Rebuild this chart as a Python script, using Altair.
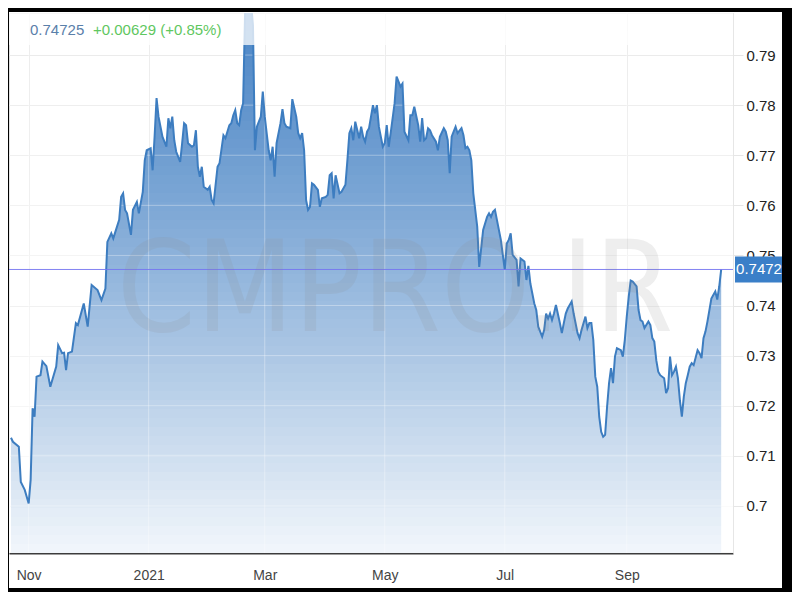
import altair as alt
import pandas as pd

# ---------------- data ----------------
dates = [
    "2020-10-23", "2020-10-24", "2020-10-27", "2020-10-28", "2020-10-30",
    "2020-11-01", "2020-11-02", "2020-11-03", "2020-11-04", "2020-11-05", "2020-11-07", "2020-11-08",
    "2020-11-10", "2020-11-12", "2020-11-15", "2020-11-16", "2020-11-18", "2020-11-19", "2020-11-20",
    "2020-11-21", "2020-11-23", "2020-11-25", "2020-11-26", "2020-11-29",
    "2020-12-01", "2020-12-03", "2020-12-06", "2020-12-08", "2020-12-10", "2020-12-11", "2020-12-13",
    "2020-12-14", "2020-12-17", "2020-12-18", "2020-12-19", "2020-12-20", "2020-12-21", "2020-12-23",
    "2020-12-24", "2020-12-26", "2020-12-27", "2020-12-29", "2020-12-30", "2020-12-31",
    "2021-01-02", "2021-01-03", "2021-01-04", "2021-01-05", "2021-01-06", "2021-01-07", "2021-01-08",
    "2021-01-10", "2021-01-11", "2021-01-12", "2021-01-13", "2021-01-14", "2021-01-15", "2021-01-17",
    "2021-01-18", "2021-01-19", "2021-01-20", "2021-01-21", "2021-01-23", "2021-01-24", "2021-01-25",
    "2021-01-26", "2021-01-27", "2021-01-28", "2021-01-29", "2021-01-31",
    "2021-02-01", "2021-02-02", "2021-02-03", "2021-02-05", "2021-02-06", "2021-02-08", "2021-02-09",
    "2021-02-11", "2021-02-12", "2021-02-13", "2021-02-14", "2021-02-15", "2021-02-16", "2021-02-17",
    "2021-02-18", "2021-02-19", "2021-02-20", "2021-02-21", "2021-02-22", "2021-02-23", "2021-02-24",
    "2021-02-25", "2021-02-27", "2021-02-28",
    "2021-03-01", "2021-03-03", "2021-03-04", "2021-03-05", "2021-03-06", "2021-03-07", "2021-03-09",
    "2021-03-10", "2021-03-11", "2021-03-12", "2021-03-14", "2021-03-15", "2021-03-17", "2021-03-18",
    "2021-03-19", "2021-03-20", "2021-03-21", "2021-03-22", "2021-03-23", "2021-03-24", "2021-03-25",
    "2021-03-26", "2021-03-28", "2021-03-29", "2021-03-30",
    "2021-04-01", "2021-04-02", "2021-04-03", "2021-04-04", "2021-04-05", "2021-04-06", "2021-04-08",
    "2021-04-09", "2021-04-11", "2021-04-12", "2021-04-13", "2021-04-14", "2021-04-15", "2021-04-16",
    "2021-04-18", "2021-04-19", "2021-04-20", "2021-04-21", "2021-04-22", "2021-04-23", "2021-04-25",
    "2021-04-26", "2021-04-27", "2021-04-28", "2021-04-30",
    "2021-05-01", "2021-05-02", "2021-05-03", "2021-05-04", "2021-05-06", "2021-05-07", "2021-05-08",
    "2021-05-09", "2021-05-10", "2021-05-11", "2021-05-13", "2021-05-14", "2021-05-15", "2021-05-16",
    "2021-05-18", "2021-05-19", "2021-05-20", "2021-05-21", "2021-05-22", "2021-05-23", "2021-05-24",
    "2021-05-25", "2021-05-27", "2021-05-28", "2021-05-29", "2021-05-31",
    "2021-06-01", "2021-06-02", "2021-06-03", "2021-06-04", "2021-06-05", "2021-06-06", "2021-06-07",
    "2021-06-09", "2021-06-10", "2021-06-11", "2021-06-12", "2021-06-13", "2021-06-14", "2021-06-15",
    "2021-06-17", "2021-06-18", "2021-06-19", "2021-06-20", "2021-06-22", "2021-06-23", "2021-06-24",
    "2021-06-25", "2021-06-26", "2021-06-27", "2021-06-29", "2021-06-30",
    "2021-07-01", "2021-07-02", "2021-07-03", "2021-07-04", "2021-07-05", "2021-07-07", "2021-07-08",
    "2021-07-09", "2021-07-11", "2021-07-12", "2021-07-13", "2021-07-14", "2021-07-16", "2021-07-17",
    "2021-07-18", "2021-07-20", "2021-07-21", "2021-07-22", "2021-07-23", "2021-07-24", "2021-07-25",
    "2021-07-26", "2021-07-27", "2021-07-29", "2021-07-30", "2021-07-31",
    "2021-08-01", "2021-08-02", "2021-08-03", "2021-08-04", "2021-08-05", "2021-08-07", "2021-08-08",
    "2021-08-09", "2021-08-11", "2021-08-12", "2021-08-13", "2021-08-14", "2021-08-15", "2021-08-16",
    "2021-08-17", "2021-08-18", "2021-08-19", "2021-08-20", "2021-08-21", "2021-08-22", "2021-08-23",
    "2021-08-24", "2021-08-25", "2021-08-26", "2021-08-27", "2021-08-29", "2021-08-30", "2021-08-31",
    "2021-09-01", "2021-09-02", "2021-09-03", "2021-09-04", "2021-09-06", "2021-09-07", "2021-09-08",
    "2021-09-09", "2021-09-10", "2021-09-12", "2021-09-13", "2021-09-14", "2021-09-15", "2021-09-16",
    "2021-09-17", "2021-09-18", "2021-09-20", "2021-09-21", "2021-09-22", "2021-09-23", "2021-09-24",
    "2021-09-25", "2021-09-26", "2021-09-27", "2021-09-28", "2021-09-29", "2021-09-30",
    "2021-10-01", "2021-10-02", "2021-10-03", "2021-10-04", "2021-10-05", "2021-10-07", "2021-10-08",
    "2021-10-09", "2021-10-10", "2021-10-11", "2021-10-12", "2021-10-13", "2021-10-14", "2021-10-15",
    "2021-10-16", "2021-10-17", "2021-10-18", "2021-10-19",
]

values = [
    0.7136, 0.7128, 0.7118, 0.7048, 0.7032,
    0.7005, 0.7052, 0.7195, 0.7178, 0.7258, 0.7261, 0.7288, 0.7279, 0.7238, 0.7278, 0.7321, 0.7305,
    0.7306, 0.7271, 0.7305, 0.7308, 0.7365, 0.7361, 0.7404,
    0.7358, 0.7441, 0.7431, 0.7411, 0.7434, 0.7527, 0.7544, 0.7534, 0.7571, 0.7617, 0.7624, 0.7591,
    0.7584, 0.7541, 0.7591, 0.7607, 0.7584, 0.7627, 0.7690, 0.7710,
    0.7714, 0.7670, 0.7737, 0.7814, 0.7777, 0.7757, 0.7737, 0.7717, 0.7774, 0.7754, 0.7777, 0.7730,
    0.7707, 0.7687, 0.7724, 0.7764, 0.7760, 0.7724, 0.7717, 0.7720, 0.7750, 0.7677, 0.7657, 0.7677,
    0.7637, 0.7631,
    0.7637, 0.7611, 0.7604, 0.7677, 0.7684, 0.7740, 0.7734, 0.7760, 0.7764, 0.7780, 0.7790, 0.7764,
    0.7760, 0.7790, 0.7804, 0.7985, 0.8005, 0.8010, 0.8005, 0.7960, 0.7710, 0.7757, 0.7777, 0.7827,
    0.7777, 0.7710, 0.7690, 0.7717, 0.7657, 0.7724, 0.7764, 0.7792, 0.7764, 0.7757, 0.7754, 0.7812,
    0.7777, 0.7744, 0.7734, 0.7744, 0.7710, 0.7611, 0.7591, 0.7597, 0.7644, 0.7641, 0.7631, 0.7597,
    0.7614,
    0.7617, 0.7621, 0.7660, 0.7664, 0.7614, 0.7660, 0.7624, 0.7627, 0.7641, 0.7690, 0.7744, 0.7754,
    0.7730, 0.7767, 0.7734, 0.7757, 0.7737, 0.7727, 0.7747, 0.7754, 0.7800, 0.7784, 0.7800, 0.7757,
    0.7717,
    0.7724, 0.7760, 0.7717, 0.7744, 0.7804, 0.7857, 0.7847, 0.7837, 0.7843, 0.7747, 0.7730, 0.7780,
    0.7780, 0.7797, 0.7760, 0.7727, 0.7774, 0.7730, 0.7734, 0.7754, 0.7750, 0.7740, 0.7727, 0.7710,
    0.7737, 0.7754,
    0.7747, 0.7730, 0.7664, 0.7737, 0.7747, 0.7757, 0.7744, 0.7754, 0.7740, 0.7714, 0.7717, 0.7710,
    0.7690, 0.7624, 0.7557, 0.7477, 0.7514, 0.7551, 0.7577, 0.7584, 0.7577, 0.7587, 0.7591, 0.7571,
    0.7531, 0.7501,
    0.7471, 0.7524, 0.7531, 0.7544, 0.7501, 0.7491, 0.7438, 0.7494, 0.7488, 0.7451, 0.7479, 0.7444,
    0.7404, 0.7391, 0.7358, 0.7338, 0.7351, 0.7384, 0.7374, 0.7384, 0.7371, 0.7384, 0.7401, 0.7365,
    0.7345, 0.7365,
    0.7384, 0.7394, 0.7401, 0.7408, 0.7384, 0.7345, 0.7335, 0.7351, 0.7378, 0.7355, 0.7365, 0.7365,
    0.7331, 0.7258, 0.7238, 0.7178, 0.7148, 0.7138, 0.7142, 0.7198, 0.7245, 0.7275, 0.7245, 0.7298,
    0.7315, 0.7311, 0.7298, 0.7331,
    0.7378, 0.7418, 0.7450, 0.7448, 0.7438, 0.7391, 0.7371, 0.7368, 0.7355, 0.7368, 0.7361, 0.7335,
    0.7328, 0.7291, 0.7268, 0.7261, 0.7255, 0.7225, 0.7235, 0.7298, 0.7261, 0.7268, 0.7278, 0.7255,
    0.7211, 0.7178, 0.7218,
    0.7245, 0.7261, 0.7278, 0.7285, 0.7281, 0.7311, 0.7305, 0.7295, 0.7335, 0.7348, 0.7368, 0.7391,
    0.7414, 0.7421, 0.7428, 0.7412, 0.7438, 0.7472,
]

last_price = 0.7472
last_price_label = ["0.7472"]
header_price = ["0.74725"]
header_change = ["+0.00629 (+0.85%)"]
watermark = ["CMPRO.IR"]
y_ticks = [0.70, 0.71, 0.72, 0.73, 0.74, 0.75, 0.76, 0.77, 0.78, 0.79]
x_tick_months = [(2020, 11), (2021, 1), (2021, 3), (2021, 5), (2021, 7), (2021, 9)]
x_domain = [(2020, 10, 22), (2021, 10, 25)]
y_domain = [0.6906, 0.7984]

# ---------------- chart ----------------
W, H = 724, 540
FONT = "Liberation Sans, Arial, sans-serif"

df = pd.DataFrame({"date": dates, "value": values})

x_scale = alt.Scale(type="utc", domain=[alt.DateTime(year=y, month=m, date=d, utc=True) for y, m, d in x_domain])
y_scale = alt.Scale(domain=y_domain, zero=False, nice=False)

x_enc = alt.X(
    "date:T", scale=x_scale,
    axis=alt.Axis(
        values=[alt.DateTime(year=y, month=m, date=1, utc=True) for y, m in x_tick_months],
        labelExpr="utcFormat(datum.value, utcmonth(datum.value) == 0 ? '%Y' : '%b')",
        title=None, ticks=False, labelPadding=15, grid=True, gridColor="#ebebeb",
        domainColor="#3c3c3c", domainWidth=2, labelFontSize=14, labelColor="#444444",
        labelFont=FONT, labelAngle=0,
    ),
)
y_enc = alt.Y(
    "value:Q", scale=y_scale,
    axis=alt.Axis(
        orient="right", values=y_ticks, format=".2~f", title=None, grid=True,
        gridColor="#e6e6e6", tickColor="#e6e6e6", tickSize=10, domainColor="#e6e6e6",
        labelFontSize=15, labelColor="#222222", labelPadding=3, labelFont=FONT,
    ),
)

# solid fill + white fading bands (a vertical gradient that does not depend on SVG url refs)
area = alt.Chart(df).mark_area(clip=True, color="#3a7ac0", opacity=0.92).encode(x=x_enc, y=y_enc)

N_BANDS = 60
lo, hi = y_domain
band_rows = []
for i in range(N_BANDS):
    t0 = i / N_BANDS
    t1 = (i + 1) / N_BANDS
    tm = (t0 + t1) / 2
    band_rows.append({
        "top": hi - (hi - lo) * t0,
        "bot": hi - (hi - lo) * t1,
        "a": 0.03 + 0.90 * tm ** 1.2,
    })
bands_df = pd.DataFrame(band_rows)
fade = alt.Chart(bands_df).mark_rect(color="white", clip=True).encode(
    x=alt.value(0), x2=alt.value(W),
    y=alt.Y("top:Q", scale=y_scale), y2="bot:Q",
    opacity=alt.Opacity("a:Q", scale=None),
)

# light grid lines that show through the filled area
grid_h = alt.Chart(pd.DataFrame({"v": y_ticks})).mark_rule(
    color="#ffffff", opacity=0.35, strokeWidth=1, clip=True
).encode(y=alt.Y("v:Q", scale=y_scale))
grid_v = alt.Chart(pd.DataFrame({"d": [f"{y}-{m:02d}-01" for y, m in x_tick_months]})).mark_rule(
    color="#ffffff", opacity=0.35, strokeWidth=1, clip=True
).encode(x=alt.X("d:T", scale=x_scale))

line = alt.Chart(df).mark_line(clip=True, color="#3d7dc0", strokeWidth=2).encode(x="date:T", y="value:Q")

one = pd.DataFrame({"k": [0]})

ref_rule = alt.Chart(one).mark_rule(color="#7474f0", strokeWidth=1, opacity=0.9).encode(y=alt.datum(last_price))

header_band = alt.Chart(one).mark_rect(color="white", opacity=0.75).encode(
    x=alt.value(0), x2=alt.value(W), y=alt.value(0), y2=alt.value(32)
)

wm = alt.Chart(pd.DataFrame({"t": watermark})).mark_text(
    font="Liberation Sans Narrow, DejaVu Sans Condensed, sans-serif", fontSize=126,
    color="#8a8a8a", opacity=0.14, align="center", baseline="middle",
).encode(x=alt.value(386), y=alt.value(280), text="t:N")

h1 = alt.Chart(pd.DataFrame({"t": header_price})).mark_text(
    font=FONT, fontSize=15, color="#5a80aa", align="left", baseline="middle"
).encode(x=alt.value(21), y=alt.value(17), text="t:N")
h2 = alt.Chart(pd.DataFrame({"t": header_change})).mark_text(
    font=FONT, fontSize=15, color="#5fc75f", align="left", baseline="middle"
).encode(x=alt.value(84), y=alt.value(17), text="t:N")

price_box = alt.Chart(one).mark_rect(color="#3a7fc8", clip=False).encode(
    x=alt.value(726), x2=alt.value(774), y=alt.datum(0.7498), y2=alt.datum(0.7446)
)
price_txt = alt.Chart(pd.DataFrame({"t": last_price_label})).mark_text(
    font=FONT, fontSize=15, color="white", align="center", baseline="middle", clip=False
).encode(x=alt.value(750), y=alt.datum(last_price), text="t:N")

frame_top = alt.Chart(one).mark_rect(color="black", clip=False).encode(
    x=alt.value(-1), x2=alt.value(784), y=alt.value(-5), y2=alt.value(-1))
frame_left = alt.Chart(one).mark_rect(color="black", clip=False).encode(
    x=alt.value(-1), x2=alt.value(0), y=alt.value(-5), y2=alt.value(580))
frame_right = alt.Chart(one).mark_rect(color="black", clip=False).encode(
    x=alt.value(773), x2=alt.value(784), y=alt.value(-5), y2=alt.value(580))
frame_bottom = alt.Chart(one).mark_rect(color="black", clip=False).encode(
    x=alt.value(-1), x2=alt.value(784), y=alt.value(575), y2=alt.value(580))

chart = alt.layer(
    area, fade, grid_h, grid_v, line, ref_rule, wm, header_band, h1, h2, price_box, price_txt,
    frame_top, frame_left, frame_right, frame_bottom,
).properties(
    width=W, height=H,
    padding={"left": 1, "top": 5, "right": 59, "bottom": 39},
    autosize=alt.AutoSizeParams(type="none"),
).configure_view(strokeWidth=0).configure(background="white")

chart.save("out.html", embed_options={"renderer": "svg", "actions": False})
